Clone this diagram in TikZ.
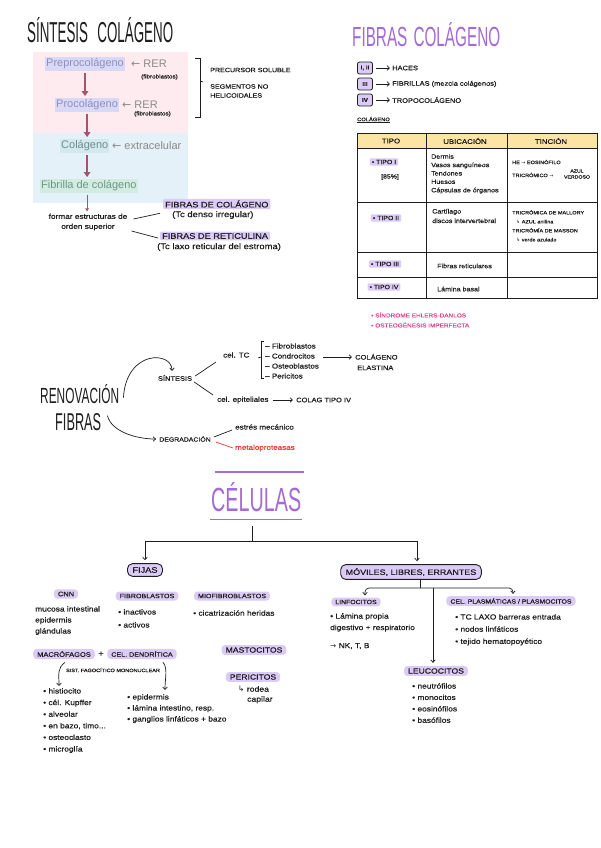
\documentclass[tikz,border=0pt]{standalone}
\usepackage{fontspec}
\usepackage{graphicx}
\setmainfont{Liberation Sans}
\newfontfamily\hw[FakeStretch=1.15,FakeBold=0.6]{Liberation Sans}
\newfontfamily\hwt{Liberation Sans}
\newfontfamily\dv{DejaVu Sans}
\usetikzlibrary{arrows.meta,calc}
\definecolor{pinkbg}{HTML}{FDEBF0}
\definecolor{bluebg}{HTML}{E4F1F8}
\definecolor{hlA}{HTML}{DAD9F5}
\definecolor{txA}{HTML}{8C90C4}
\definecolor{hlC}{HTML}{D3E9EE}
\definecolor{txC}{HTML}{6E8E92}
\definecolor{hlF}{HTML}{D2ECE2}
\definecolor{txF}{HTML}{6F9688}
\definecolor{gry}{HTML}{8A8A8A}
\definecolor{arr}{HTML}{A5546F}
\definecolor{purp}{HTML}{A46AD6}
\definecolor{pill}{HTML}{DCCBF6}
\definecolor{hdr}{HTML}{FCE4A4}
\definecolor{pinkt}{HTML}{E2458F}
\definecolor{redt}{HTML}{E23B2E}
\definecolor{ink}{HTML}{1E1E1E}
\tikzset{
  hand/.style 2 args={font=\hw\fontsize{#1}{#2}\selectfont, text=ink, inner sep=0pt},
  pl/.style={fill=pill, rounded corners=3.5pt, inner xsep=4pt, inner ysep=2.3pt, text=ink, font=\hw\fontsize{#1}{#1}\selectfont},
  hl/.style={fill=pill, rounded corners=1pt, inner xsep=2pt, inner ysep=1.6pt, text=ink, font=\hw\fontsize{#1}{#1}\selectfont},
  tbx/.style={draw=ink, line width=0.8pt, fill=pill, rounded corners=2pt, minimum width=15pt, minimum height=12pt, inner sep=1pt, text=ink, font=\hw\bfseries\fontsize{5.5}{6}\selectfont},
  bigbox/.style={draw=ink, line width=0.9pt, fill=pill, rounded corners=5pt, inner xsep=5pt, inner ysep=3.5pt, text=ink, font=\hw\fontsize{#1}{#1}\selectfont},
  gd/.style={font=\fontsize{11}{12}\selectfont, inner xsep=1pt, inner ysep=1.5pt},
  ln/.style={draw=ink, line width=0.7pt},
  ar/.style={ln, -{Straight Barb[length=2.5pt,width=4.5pt]}},
  gar/.style={draw=arr, line width=1.6pt, -{Triangle[length=5pt,width=6.5pt]}, shorten <=2pt, shorten >=2pt},
  gthin/.style={draw=arr, line width=0.8pt, -{Triangle[length=3pt,width=3.5pt]}, shorten <=2pt, shorten >=2pt},
  tl/.style={draw=ink, line width=0.8pt}
}
\begin{document}
\begin{tikzpicture}[x=1pt,y=-1pt]
\useasboundingbox (0,0) rectangle (600,848);
\fill[white] (0,0) rectangle (600,848);

%% ---------- Sintesis colageno ----------
\fill[pinkbg] (33,52) rectangle (188,133);
\fill[bluebg] (33,133) rectangle (188,203);
\node[anchor=base west, inner sep=0pt, text=ink] (tsin) at (27,43) {\resizebox{146pt}{25pt}{\hwt SÍNTESIS\hspace{0.7em}COLÁGENO}};

\node[gd, fill=hlA, text=txA, anchor=west] (pre) at (45,64) {Preprocolágeno};
\node[gd, text=gry, anchor=west] (rer1) at (130,64) {{\dv ←} RER};
\node[hand={5.5}{6}, anchor=west] (fb1) at (141,77) {(fibroblastos)};
\node[gd, fill=hlA, text=txA, anchor=west] (pro) at (55,105) {Procolágeno};
\node[gd, text=gry, anchor=west] (rer2) at (121,105) {{\dv ←} RER};
\node[hand={5.5}{6}, anchor=west] (fb2) at (134,114) {(fibroblastos)};
\node[gd, fill=hlC, text=txC, anchor=west] (colg) at (60,146) {Colágeno};
\node[gd, text=gry, anchor=west] (extr) at (111,146) {{\dv ←} extracelular};
\node[gd, fill=hlF, text=txF, anchor=west] (fbr) at (40,186) {Fibrilla de colágeno};

\draw[gar] (pre.south) -- (pre.south |- pro.north);
\draw[gar] (pro.south) -- (pro.south |- colg.north);
\draw[gar] (colg.south -| pro.south) -- (pro.south |- fbr.north);

\node[hand={7.2}{10}, align=center] (form) at (88,222) {formar estructuras de\\orden superior};
\draw[gthin] (pro.south |- fbr.south) -- (pro.south |- form.north);

\node[hl=8, anchor=west] (fcol) at (163,204) {FIBRAS DE COLÁGENO};
\node[hand={8.2}{9}, anchor=west] (fcols) at (172,215) {(Tc denso irregular)};
\node[hl=8, anchor=west] (fret) at (160,236) {FIBRAS DE RETICULINA};
\node[hand={8.2}{9}, anchor=west] (frets) at (157,247) {(Tc laxo reticular del estroma)};
\draw[ln] ($(form.east)+(6,-3)$) -- ($(fcol.south west)+(-3,4)$);
\draw[ln] ($(form.east)+(4,9)$) -- ($(fret.west)+(-2,2)$);

%% bracket + notes
\draw[ln, line width=0.9pt] (195,58) -- (200,58) -- (200,117) -- (195,117);
\draw[ln] (200,81) -- (203,82);
\node[hand={6.2}{7}, anchor=west] (psol) at (210,70) {PRECURSOR SOLUBLE};
\node[hand={6.2}{9}, anchor=west, align=left] (segm) at (210,91) {SEGMENTOS NO\\HELICOIDALES};

%% ---------- Fibras colageno ----------
\node[anchor=base west, inner sep=0pt, text=purp] (tfib) at (352,47) {\resizebox{148pt}{24pt}{\hwt FIBRAS\hspace{0.4em}COLÁGENO}};
\node[tbx] (b1) at (365,68) {I, II};
\node[tbx] (b2) at (365,84) {III};
\node[tbx] (b3) at (365,100) {IV};
\node[hand={6.5}{7}, anchor=west] (n1) at (392,68) {HACES};
\node[hand={6.5}{7}, anchor=west] (n2) at (392,84) {FIBRILLAS (mezcla colágenos)};
\node[hand={6.5}{7}, anchor=west] (n3) at (392,100) {TROPOCOLÁGENO};
\draw[ar] ($(b1.east)+(3,0)$) -- ($(n1.west)+(-2,0)$);
\draw[ar] ($(b2.east)+(3,0)$) -- ($(n2.west)+(-2,0)$);
\draw[ar] ($(b3.east)+(3,0)$) -- ($(n3.west)+(-2,0)$);
\node[hand={5}{6}, anchor=west] (lcol) at (357,120) {\underline{COLÁGENO}};

%% table
\fill[hdr] (357,133) rectangle (597,148);
\draw[tl] (357,133) rectangle (597,298);
\foreach \yy in {148,202,252,277} \draw[tl] (357,\yy) -- (597,\yy);
\foreach \xx in {426,507} \draw[tl] (\xx,133) -- (\xx,298);
\node[hand={6.8}{7}] (h1) at (391,141) {TIPO};
\node[hand={6.8}{7}] (h2) at (465,141) {UBICACIÓN};
\node[hand={6.8}{7}] (h3) at (551,141) {TINCIÓN};

\node[hl=6] (r1a) at (384,162) {• TIPO I};
\node[hand={6}{6}] (r1b) at (390,177) {[85\%]};
\node[hand={6.2}{8.4}, align=left, anchor=north west] (r1c) at (431,154) {Dermis\\Vasos sanguíneos\\Tendones\\Huesos\\Cápsulas de órganos};
\node[hand={4.8}{5}, anchor=west] (r1d) at (512,162) {HE {\dv →} EOSINÓFILO};
\node[hand={4.8}{5}, anchor=west] (r1e) at (512,175) {TRICRÓMICO {\dv →}};
\node[hand={4.5}{6}, align=center] (r1f) at (577,174) {AZUL\\VERDOSO};

\node[hl=6] (r2a) at (386,218) {• TIPO II};
\node[hand={6.2}{9.5}, align=left, anchor=west] (r2b) at (432,216) {Cartílago\\discos intervertebral};
\node[hand={4.8}{9}, align=left, anchor=north west] (r2c) at (512,210) {TRICRÓMICA DE MALLORY\\\hspace*{4pt}{\dv ↳} AZUL anilina\\TRICRÓMÍA DE MASSON\\\hspace*{4pt}{\dv ↳} verde azulado};

\node[hl=6] (r3a) at (385,264) {• TIPO III};
\node[hand={6.2}{7}, anchor=west] (r3b) at (437,266) {Fibras reticulares};
\node[hl=6] (r4a) at (384,287) {• TIPO IV};
\node[hand={6.2}{7}, anchor=west] (r4b) at (437,289) {Lámina basal};

\node[hand={5.6}{6}, anchor=west, text=pinkt] (pk1) at (371,315) {• SÍNDROME EHLERS-DANLOS};
\node[hand={5.6}{6}, anchor=west, text=pinkt] (pk2) at (371,325) {• OSTEOGÉNESIS IMPERFECTA};

%% ---------- Renovacion fibras ----------
\node[anchor=base west, inner sep=0pt, text=ink] (ren) at (40,403) {\resizebox{79pt}{19pt}{\hwt RENOVACIÓN}};
\node[anchor=base west, inner sep=0pt, text=ink] (fib) at (55,430) {\resizebox{46pt}{17pt}{\hwt FIBRAS}};
\node[hand={6.5}{7}] (sint) at (175,378) {SÍNTESIS};
\node[hand={6}{7}] (deg) at (185,439) {DEGRADACIÓN};
\draw[ar] ($(ren.east)+(4,4)$) .. controls +(3,-48) and +(0,-20) .. ($(sint.north)+(-3,-4)$);
\draw[ar] ($(fib.east)+(6,-6)$) .. controls +(4,16) and +(-20,0) .. ($(deg.west)+(-3,0)$);

\node[hand={7}{7}, anchor=west] (ctc) at (223,355) {cel. TC};
\node[hand={7}{7}, anchor=west] (cepi) at (217,400) {cel. epiteliales};
\draw[ln] ($(sint.east)+(3,-2)$) -- ($(ctc.west)+(-7,7)$);
\draw[ln] ($(sint.east)+(2,4)$) -- ($(cepi.west)+(-4,-5)$);

\draw[ln, line width=0.8pt] (264,341) -- (261,341) -- (261,378) -- (264,378);
\draw[ln] (261,357) -- (258,358);
\node[hand={7}{10}, align=left, anchor=west] (ltc) at (265,361) {– Fibroblastos\\– Condrocitos\\– Osteoblastos\\– Pericitos};
\node[hand={6.5}{10.5}, align=left, anchor=west] (cela) at (355,362) {COLÁGENO\\\hspace*{2pt}ELASTINA};
\draw[ar] ($(ltc.east)+(4,-4)$) -- ($(cela.west)+(-3,-5)$);
\node[hand={6.5}{7}, anchor=west] (ctiv) at (296,400) {COLAG TIPO IV};
\draw[ar] ($(cepi.east)+(4,0)$) -- ($(ctiv.west)+(-3,0)$);

\node[hand={7}{7}, anchor=west] (estr) at (235,427) {estrés mecánico};
\node[hand={7}{7}, anchor=west, text=redt] (meta) at (235,448) {metaloproteasas};
\draw[ln] ($(deg.east)+(3,-2)$) -- ($(estr.west)+(-3,3)$);
\draw[draw=redt, line width=0.7pt] ($(deg.east)+(5,3)$) -- ($(meta.west)+(-2,0)$);

%% ---------- Celulas ----------
\node[anchor=base west, inner sep=0pt, text=purp] (tcel) at (211,511) {\resizebox{90pt}{29pt}{\hwt CÉLULAS}};
\draw[purp, line width=1.6pt] ($(tcel.north west)+(4,-10)$) -- ($(tcel.north east)+(3,-10)$);
\draw[purp, line width=1.6pt] ($(tcel.south west)+(-1,8)$) -- ($(tcel.south east)+(1,8)$);

\node[bigbox=8] (fijas) at (145,570) {FIJAS};
\node[bigbox=7.8] (movil) at (411,572) {MÓVILES, LIBRES, ERRANTES};
\coordinate (ctop) at (252,526);
\coordinate (cj) at (252,541);
\draw[ln] (ctop) -- (cj);
\draw[ar, shorten >=3pt] (cj) -| (fijas.north);
\draw[ar, shorten >=3pt] (cj) -| ($(movil.north)+(6,0)$);

%% moviles branch
\node[pl=6] (linf) at (356,602) {LINFOCITOS};
\node[pl=6] (plas) at (511,601) {CEL. PLASMÁTICAS / PLASMOCITOS};
\node[pl=7.5] (leuc) at (436,671) {LEUCOCITOS};
\coordinate (mj) at (420,588);
\coordinate (mv) at (433,588);
\draw[ln] (mj |- movil.south) -- (mj);
\draw[ar, rounded corners=4pt, shorten >=2pt] (mj) -| ($(linf.north)+(9,0)$);
\draw[ar, rounded corners=4pt, shorten >=2pt] (mj) -| ($(plas.north)+(2,0)$);
\draw[ar, shorten >=3pt] (mv) -- (mv |- leuc.north);

\node[hand={7.3}{11.5}, align=left, anchor=north west] (linl) at (330,613) {• Lámina propia\\digestivo + respiratorio};
\node[hand={7.3}{8}, anchor=west] (linb) at (330,646) {{\dv →} NK, T, B};
\node[hand={7.3}{12.2}, align=left, anchor=north west] (plal) at (455,614) {• TC LAXO barreras entrada\\• nodos linfáticos\\• tejido hematopoyético};
\node[hand={7.3}{11.4}, align=left, anchor=north west] (leul) at (412,683) {• neutrófilos\\• monocitos\\• eosinófilos\\• basófilos};

%% fijas branch
\node[pl=6.5] (cnn) at (66,594) {CNN};
\node[pl=6.2] (fibb) at (147,596) {FIBROBLASTOS};
\node[pl=6.2] (miof) at (232,596) {MIOFIBROBLASTOS};
\node[hand={7.3}{11}, align=left, anchor=north west] (cnnl) at (35,606) {mucosa intestinal\\epidermis\\glándulas};
\node[hand={7.3}{13}, align=left, anchor=north west] (fibl) at (118,609) {• inactivos\\• activos};
\node[hand={7.3}{8}, anchor=west] (miol) at (193,613) {• cicatrización heridas};

\node[pl=6.5] (macro) at (64,654) {MACRÓFAGOS};
\node[hand={8}{8}] (plus) at (101,654) {+};
\node[pl=6.2] (dendr) at (142,654) {CEL. DENDRÍTICA};
\node[hand={4.8}{6}] (sfm) at (113,670) {SIST. FAGOCÍTICO MONONUCLEAR};
\node[hand={7.3}{11.6}, align=left, anchor=north west] (lstL) at (43,688) {• histiocito\\• cél. Kupffer\\• alveolar\\• en bazo, timo...\\• osteoclasto\\• microglía};
\node[hand={7.3}{11}, align=left, anchor=north west] (lstR) at (127,694) {• epidermis\\• lámina intestino, resp.\\• ganglios linfáticos + bazo};
\draw[ar] ($(macro.south)+(1,3)$) .. controls +(-8,6) and +(0,-12) .. ($(lstL.north west)+(16,-2)$);
\draw[ar] ($(dendr.south)+(21,3)$) .. controls +(5,6) and +(0,-12) .. ($(lstR.north west)+(38,-4)$);

\node[pl=7.5] (mast) at (254,650) {MASTOCITOS};
\node[pl=7.5] (peri) at (253,677) {PERICITOS};
\node[hand={7.5}{10}, align=left, anchor=north west] (rode) at (238,686) {{\dv ↳} rodea\\\hspace*{9pt}capilar};
\end{tikzpicture}
\end{document}
